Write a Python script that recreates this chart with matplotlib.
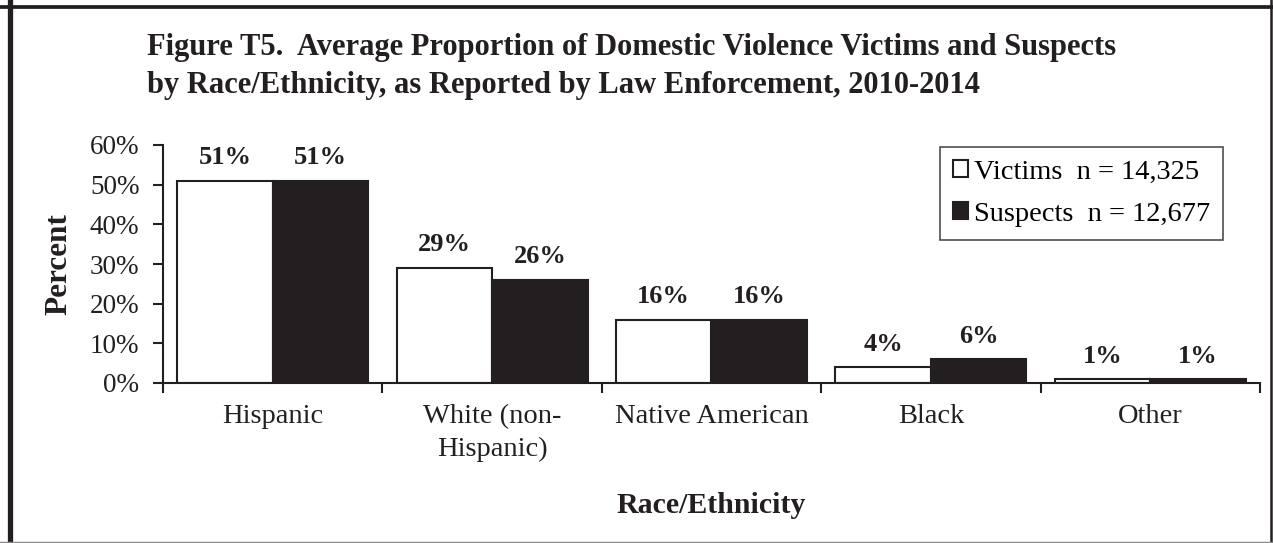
import matplotlib
matplotlib.use("Agg")
import matplotlib.pyplot as plt
from matplotlib.lines import Line2D
import numpy as np

categories = ["Hispanic", "White (non-\nHispanic)", "Native American", "Black", "Other"]
victims = [51, 29, 16, 4, 1]
suspects = [51, 26, 16, 6, 1]
victim_labels = ["51%", "29%", "16%", "4%", "1%"]
suspect_labels = ["51%", "26%", "16%", "6%", "1%"]
yticks = [0, 10, 20, 30, 40, 50, 60]
ytick_labels = ["0%", "10%", "20%", "30%", "40%", "50%", "60%"]

plt.rcParams['font.family'] = ['Liberation Serif', 'DejaVu Serif']

W, H = 1273, 543
fig = plt.figure(figsize=(W/100, H/100), dpi=100)
ax = fig.add_axes([163/W, 1-383/H, (1260-163)/W, (383-145)/H])

x = np.arange(len(categories))
bw = 0.435
dark = '#231f20'
ax.bar(x - bw/2, victims, bw, color='white', edgecolor=dark, linewidth=1.5,
       label='Victims  n = 14,325')
ax.bar(x + bw/2, suspects, bw, color=dark, edgecolor=dark, linewidth=1.5,
       label='Suspects  n = 12,677')

off = 23 / 238 * 60
for i in range(len(categories)):
    ax.text(x[i] - bw/2, victims[i] + off, victim_labels[i], ha='center', va='center',
            fontsize=19, fontweight='bold', color=dark)
    ax.text(x[i] + bw/2, suspects[i] + off, suspect_labels[i], ha='center', va='center',
            fontsize=19, fontweight='bold', color=dark)

ax.set_xlim(-0.5, len(categories) - 0.5)
ax.set_ylim(0, 60)
ax.set_yticks(yticks)
ax.set_yticklabels(ytick_labels, fontsize=19.5, color=dark)
ax.set_xticks(x)
ax.set_xticklabels(categories, fontsize=20.5, color=dark, linespacing=1.4)
ax.set_xticks(np.arange(-0.5, len(categories)), minor=True)
ax.tick_params(axis='x', which='major', length=0, pad=15)
ax.tick_params(axis='x', which='minor', length=7, width=1.5, direction='out', color=dark)
ax.tick_params(axis='y', length=7, width=1.5, direction='out', color=dark, pad=10)

for s in ['top', 'right']:
    ax.spines[s].set_visible(False)
for s in ['left', 'bottom']:
    ax.spines[s].set_linewidth(1.5)
    ax.spines[s].set_color(dark)

ax.set_ylabel('Percent', fontsize=22.5, fontweight='bold', color=dark, labelpad=12)
ax.set_xlabel('Race/Ethnicity', fontsize=21.5, fontweight='bold', color=dark, labelpad=22)

leg = ax.legend(loc='upper right', bbox_to_anchor=((1223-163)/(1260-163), 1 + (145-147)/(383-145)),
                fontsize=20.5, frameon=True, fancybox=False, edgecolor=dark,
                handlelength=0.55, handleheight=0.55, handletextpad=0.2, borderpad=0.45,
                labelspacing=0.6, borderaxespad=0)
leg.get_frame().set_linewidth(1.2)

fig.text(147/W, 1-47/H, "Figure T5.  Average Proportion of Domestic Violence Victims and Suspects",
         fontsize=22, fontweight='bold', color=dark, va='center', ha='left')
fig.text(147/W, 1-86/H, "by Race/Ethnicity, as Reported by Law Enforcement, 2010-2014",
         fontsize=22, fontweight='bold', color=dark, va='center', ha='left')

# figure border
fig.add_artist(Line2D([9.5/W, 9.5/W], [0, 1], transform=fig.transFigure, color=dark, linewidth=3.8))
fig.add_artist(Line2D([0, 1], [1-6.8/H, 1-6.8/H], transform=fig.transFigure, color=dark, linewidth=2.7))
fig.add_artist(Line2D([1-2/W, 1-2/W], [0, 1], transform=fig.transFigure, color=dark, linewidth=1.8))
fig.add_artist(Line2D([0, 1], [1.5/H, 1.5/H], transform=fig.transFigure, color='#888888', linewidth=1))

fig.savefig('out.png', dpi=100)
